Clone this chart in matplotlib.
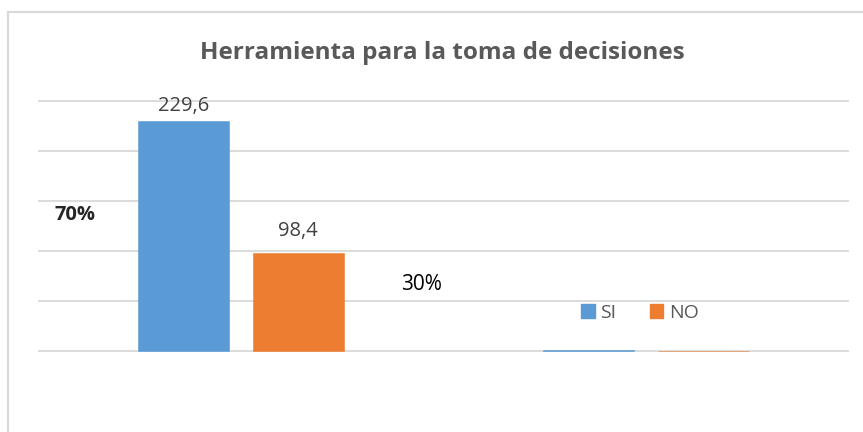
import matplotlib.pyplot as plt
from matplotlib.patches import Rectangle
from matplotlib.lines import Line2D
import numpy as np

plt.rcParams['font.family'] = ['Open Sans', 'DejaVu Sans']

categories = ['', '']
si_values = [229.6, 0.7]
no_values = [98.4, 0.3]
si_labels = ['229,6', '']
no_labels = ['98,4', '']
pct_labels = ['70%', '30%']

blue = '#5b9bd5'
orange = '#ed7d31'
grid_c = '#d9d9d9'
text_c = '#595959'

W, H = 863, 432
fig = plt.figure(figsize=(W / 100, H / 100), dpi=100)

# chart border (Excel style, cut off at right/bottom)
fig.add_artist(Line2D([8 / W, 8 / W], [0, 1 - 12 / H], color=grid_c, lw=1.5))
fig.add_artist(Line2D([8 / W, 1], [1 - 12 / H, 1 - 12 / H], color=grid_c, lw=1.5))

# plot area: y 0 at pixel 351, 250 at pixel 101 (with a little padding so edge gridlines are whole)
ax = fig.add_axes([38 / W, 1 - 353 / H, (849 - 38) / W, 254 / H])
x = np.arange(len(categories))
bw = 0.225
off = 0.142
ax.bar(x - off, si_values, bw, color=blue, edgecolor=blue, lw=0.4, label='SI', zorder=3)
ax.bar(x + off, no_values, bw, color=orange, edgecolor=orange, lw=0.4, label='NO', zorder=3)

ax.set_xlim(-0.5, 1.5)
ax.set_ylim(-2, 252)
ax.set_yticks(np.arange(0, 251, 50))
ax.yaxis.grid(True, color=grid_c, lw=1.3, zorder=0)
ax.set_axisbelow(True)
ax.tick_params(left=False, bottom=False, labelleft=False, labelbottom=False)
for s in ax.spines.values():
    s.set_visible(False)

for i, (v, lab) in enumerate(zip(si_values, si_labels)):
    if lab:
        ax.text(x[i] - off, v + 15, lab, ha='center', va='center', fontsize=14.5, color='#404040')
for i, (v, lab) in enumerate(zip(no_values, no_labels)):
    if lab:
        ax.text(x[i] + off, v + 22, lab, ha='center', va='center', fontsize=14.5, color='#404040')

fig.text(75 / W, 1 - 215 / H, pct_labels[0], ha='center', va='center', fontsize=14.5, fontweight='bold', color='#262626')
fig.text(421 / W, 1 - 284 / H, pct_labels[1], ha='center', va='center', fontsize=15, color='#000000')

fig.text(442 / W, 1 - 53 / H, 'Herramienta para la toma de decisiones', ha='center', va='center',
         fontsize=17.5, fontweight='bold', color=text_c)

leg = fig.legend(handles=[Rectangle((0, 0), 1, 1, color=blue), Rectangle((0, 0), 1, 1, color=orange)],
                 labels=['SI', 'NO'], loc='center', bbox_to_anchor=(640 / W, 1 - 313 / H), ncol=2,
                 frameon=False, fontsize=14, handlelength=0.7, handleheight=0.7, handletextpad=0.3,
                 columnspacing=1.7, labelcolor=text_c, borderpad=0.1)

fig.savefig('out.png', dpi=100)
